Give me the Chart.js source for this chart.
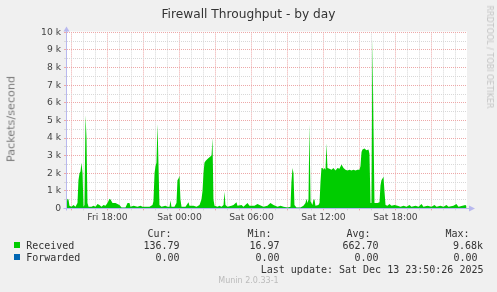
<!DOCTYPE html>
<html><head><meta charset="utf-8">
<script src="https://cdn.jsdelivr.net/npm/chart.js@4.4.1/dist/chart.umd.min.js"></script>
<style>
html,body{margin:0;padding:0;background:#F0F0F0;}
#wrap{position:relative;width:497px;height:292px;overflow:hidden;background:#F0F0F0;}
canvas{position:absolute;left:0;top:0;}
.t{position:absolute;white-space:pre;color:#333;font-family:"DejaVu Sans Mono",monospace;font-size:10px;line-height:12px;}
.s{position:absolute;white-space:pre;font-family:"DejaVu Sans",sans-serif;font-weight:normal;}
.box{position:absolute;width:6px;height:6px;}
</style></head><body>
<div id="wrap">
<canvas id="c" width="497" height="292"></canvas>
<div class="s" style="left:0;width:497px;text-align:center;top:6.8px;font-size:12.2px;line-height:14px;color:#333;">Firewall Throughput - by day</div>
<div class="s" style="left:11px;top:119px;font-size:11.2px;line-height:13px;color:#7A7A7A;transform:translate(-50%,-50%) rotate(-90deg);">Packets/second</div>
<div class="s" style="left:488.5px;top:56.5px;font-size:8px;line-height:10px;color:#C4C4C4;transform:translate(-50%,-50%) rotate(90deg);">RRDTOOL / TOBI OETIKER</div>

<div class="t" style="top:227.5px;right:325.5px;">Cur:</div>
<div class="t" style="top:227.5px;right:225.5px;">Min:</div>
<div class="t" style="top:227.5px;right:126.5px;">Avg:</div>
<div class="t" style="top:227.5px;right:27.5px;">Max:</div>

<div class="box" style="left:14px;top:242px;background:#00CC00;"></div>
<div class="t" style="top:239.5px;left:26.2px;">Received</div>
<div class="t" style="top:239.5px;right:317.5px;">136.79</div>
<div class="t" style="top:239.5px;right:217.5px;">16.97</div>
<div class="t" style="top:239.5px;right:118.5px;">662.70</div>
<div class="t" style="top:239.5px;right:14px;">9.68k</div>

<div class="box" style="left:14px;top:254px;background:#0066B3;"></div>
<div class="t" style="top:251.5px;left:26.2px;">Forwarded</div>
<div class="t" style="top:251.5px;right:317.5px;">0.00</div>
<div class="t" style="top:251.5px;right:217.5px;">0.00</div>
<div class="t" style="top:251.5px;right:118.5px;">0.00</div>
<div class="t" style="top:251.5px;right:19.5px;">0.00</div>

<div class="t" style="top:263.5px;right:13.5px;">Last update: Sat Dec 13 23:50:26 2025</div>
<div class="s" style="left:0;width:497px;text-align:center;top:276.2px;font-size:8px;line-height:10px;color:#BBBBBB;">Munin 2.0.33-1</div>
</div>
<script>
// time in hours since Fri 00:00 (Sat 00:00 = 24)
const times = [
14.58,14.67,14.75,14.83,15.00,15.17,15.33,15.50,15.58,15.67,15.75,15.83,15.92,16.00,16.08,16.17,16.25,16.33,16.42,16.67,
16.83,17.00,17.17,17.33,17.50,17.67,17.83,18.00,18.17,18.25,18.42,18.67,18.83,19.00,19.17,19.50,19.67,19.83,19.92,20.17,
20.50,20.75,20.92,21.17,21.50,21.75,21.83,21.92,22.00,22.08,22.17,22.25,22.33,22.50,22.83,23.00,23.17,23.25,23.33,23.58,
23.75,23.83,23.92,24.00,24.08,24.17,24.50,24.75,24.83,25.17,25.42,25.67,25.83,25.92,26.00,26.08,26.17,26.33,26.50,26.67,
26.75,26.83,26.92,27.17,27.33,27.50,27.67,27.75,27.83,28.00,28.33,28.50,28.75,28.83,29.17,29.33,29.67,29.83,30.25,30.50,
30.67,31.00,31.33,31.58,31.83,32.17,32.42,32.67,33.00,33.25,33.33,33.42,33.50,33.58,33.75,34.08,34.33,34.50,34.58,34.67,
34.75,34.83,34.92,35.08,35.17,35.25,35.33,35.58,35.67,35.75,35.83,35.92,36.00,36.08,36.17,36.25,36.33,36.50,36.67,36.83,
37.00,37.17,37.33,37.50,37.67,37.83,38.00,38.17,38.33,38.50,38.67,38.83,39.00,39.08,39.17,39.25,39.42,39.58,39.75,39.83,
39.92,40.00,40.08,40.17,40.25,40.50,40.67,40.75,40.83,40.92,41.00,41.08,41.17,41.33,41.50,41.67,41.92,42.17,42.42,42.67,
42.92,43.17,43.33,43.67,43.92,44.17,44.33,44.67,45.00,45.25,45.42,45.75,46.00,46.25,46.42,46.83,47.08,47.25,47.58,47.83,
47.92];
// packets per second
const received = [
300,550,500,150,100,200,100,300,1600,2000,2100,2600,2000,100,200,5300,4000,300,100,100,
150,100,250,200,100,200,150,300,550,500,300,300,250,200,50,50,300,300,100,150,
100,150,100,100,100,200,400,2000,2400,2600,4800,2500,200,100,150,100,100,450,100,100,
300,1600,1700,1850,500,100,100,350,150,150,100,200,500,1000,2000,2600,2700,2800,2900,3000,
4000,500,150,100,150,100,200,950,200,100,150,200,350,150,200,100,300,150,150,250,
200,100,150,300,200,100,150,100,50,100,1500,2300,2000,200,50,50,150,300,550,300,
500,4800,400,200,500,500,150,200,300,1500,2300,2300,2200,2300,2200,3700,2300,2250,2200,2300,
2150,2300,2250,2500,2300,2200,2150,2200,2150,2200,2150,2200,2200,2400,3200,3350,3400,3300,3350,3100,
300,300,9680,4500,300,300,350,1300,1600,1700,1800,1000,200,150,250,150,200,150,100,150,
100,200,100,150,100,250,100,150,100,200,100,150,100,200,100,150,250,100,150,200,
137];
const forwardedTimes = [14.58, 47.92];
const forwarded = [0, 0];

const xTickHours = [18, 24, 30, 36, 42];
const xTickLabels = ['Fri 18:00', 'Sat 00:00', 'Sat 06:00', 'Sat 12:00', 'Sat 18:00'];
const yTickValues = [0,1000,2000,3000,4000,5000,6000,7000,8000,9000,10000];
const yTickLabels = ['0','1 k','2 k','3 k','4 k','5 k','6 k','7 k','8 k','9 k','10 k'];

const RED = '#EDA8A8';
const GREY = '#D8D8D8';
const AXIS = '#B8B8EE';

const munin = {
  id: 'munin',
  beforeDraw(chart) {
    const {ctx, chartArea: a} = chart;
    ctx.save();
    ctx.fillStyle = '#FFFFFF';
    ctx.fillRect(a.left, a.top - 1, a.right - a.left, a.bottom - a.top + 1);
    ctx.restore();
  },
  afterDraw(chart) {
    const {ctx, chartArea: a} = chart;
    const xl = Math.round(a.left) - 0.5;
    const yb = Math.round(a.bottom) + 0.5;
    ctx.save();
    ctx.strokeStyle = AXIS; ctx.fillStyle = AXIS; ctx.lineWidth = 1;
    ctx.beginPath();
    ctx.moveTo(xl, yb + 2); ctx.lineTo(xl, a.top - 4);
    ctx.moveTo(xl - 3, yb); ctx.lineTo(a.right + 3, yb);
    ctx.stroke();
    ctx.beginPath();
    ctx.moveTo(xl, a.top - 6); ctx.lineTo(xl - 3, a.top - 1); ctx.lineTo(xl + 3, a.top - 1); ctx.closePath();
    ctx.fill();
    ctx.beginPath();
    ctx.moveTo(a.right + 8, yb); ctx.lineTo(a.right + 2, yb - 3); ctx.lineTo(a.right + 2, yb + 3); ctx.closePath();
    ctx.fill();
    ctx.restore();
  }
};

new Chart(document.getElementById('c'), {
  type: 'line',
  data: {
    datasets: [
      {label: 'Forwarded', data: forwardedTimes.map((t, i) => ({x: t, y: forwarded[i]})),
       borderColor: '#0066B3', borderWidth: 1, pointRadius: 0, fill: false, order: 1},
      {label: 'Received', data: times.map((t, i) => ({x: t, y: received[i]})),
       borderColor: '#00CC00', backgroundColor: '#00CC00', borderWidth: 0, pointRadius: 0,
       fill: 'origin', tension: 0, order: 2}
    ]
  },
  options: {
    responsive: false, animation: false, devicePixelRatio: 1,
    layout: {padding: {left: 0, right: 30, top: 32.4, bottom: 63.6}},
    plugins: {legend: {display: false}, title: {display: false}, tooltip: {enabled: false}},
    events: [],
    scales: {
      x: {
        type: 'linear', min: 14.625, max: 47.96, bounds: 'data',
        afterFit: s => { s.height = 20; },
        afterBuildTicks: s => {
          const t = [];
          for (let h = Math.ceil(s.min); h <= Math.floor(s.max); h++) t.push({value: h});
          s.ticks = t;
        },
        ticks: {
          autoSkip: false, maxRotation: 0, minRotation: 0, padding: 2,
          color: '#444', font: {family: 'DejaVu Sans', size: 9.2},
          callback: v => { const i = xTickHours.indexOf(v); return i >= 0 ? xTickLabels[i] : ''; }
        },
        grid: {
          color: c => (c.tick && c.tick.value % 3 === 0) ? RED : GREY,
          tickLength: 2, drawTicks: true
        },
        border: {display: false, dash: [1, 1]}
      },
      y: {
        type: 'linear', min: 0, max: 10000, bounds: 'data',
        afterFit: s => { s.width = 67; },
        ticks: {
          stepSize: 500, autoSkip: false, padding: 3,
          color: '#444', font: {family: 'DejaVu Sans', size: 9.2},
          callback: v => { const i = yTickValues.indexOf(v); return i >= 0 ? yTickLabels[i] : ''; }
        },
        grid: {
          color: c => (c.tick && c.tick.value % 1000 === 0) ? RED : GREY,
          tickLength: 3, drawTicks: true
        },
        border: {display: false, dash: [1, 1]}
      }
    }
  },
  plugins: [munin]
});
</script>
</body></html>
